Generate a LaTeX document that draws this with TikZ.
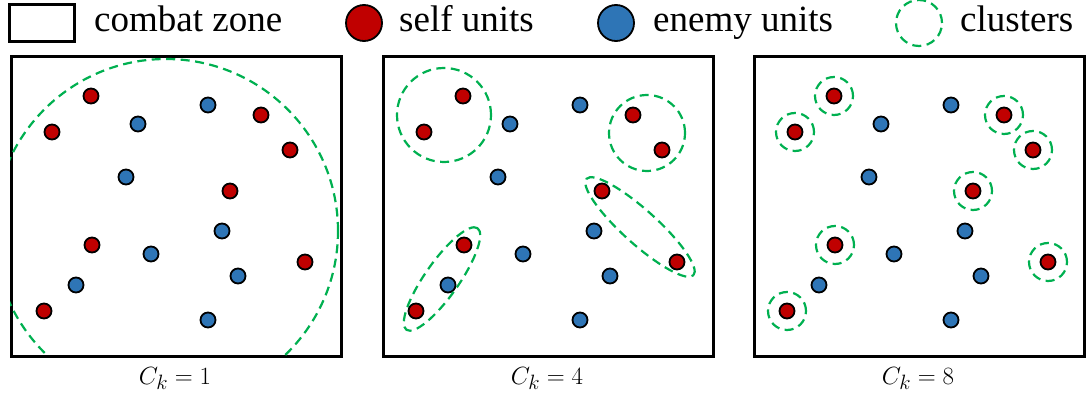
\documentclass[tikz,border=0pt]{standalone}
\usepackage{fontspec}
\setmainfont{Liberation Serif}
\usepackage{amsmath}
\usepackage{tikz}
\definecolor{selfred}{HTML}{C00000}
\definecolor{enemyblue}{HTML}{2E75B6}
\definecolor{clustergreen}{HTML}{00B050}
\tikzset{
  zone/.style={draw=black, line width=3pt},
  unit/.style={circle, draw=black, line width=1.8pt, minimum size=15pt, inner sep=0pt},
  selfunit/.style={unit, fill=selfred},
  enemyunit/.style={unit, fill=enemyblue},
  cluster/.style={draw=clustergreen, line width=2.2pt, dash pattern=on 9pt off 5.5pt},
  legendtext/.style={anchor=base west, inner sep=0pt, font=\fontsize{37}{40}\selectfont},
}

\begin{document}
\begin{tikzpicture}[x=1pt, y=-1pt]
    \useasboundingbox (0,0) rectangle (1086,398);
    % legend
    \node[zone, minimum width=65pt, minimum height=37pt, inner sep=0pt] (legzone) at (42,23) {};
    \node[legendtext] (legzonetext) at (94,32) {combat zone};
    \node[selfunit, minimum size=36pt] (legself) at (364,23) {};
    \node[legendtext] (legselftext) at (399,32) {self units};
    \node[enemyunit, minimum size=36pt] (legenemy) at (616,23) {};
    \node[legendtext] (legenemytext) at (653,32) {enemy units};
    \node[cluster, circle, minimum size=46pt, inner sep=0pt] (legcluster) at (919,23) {};
    \node[legendtext] (legclustertext) at (960,32) {clusters};
    % panels
    \foreach \px/\pn/\ck in {10/a/1, 382/b/4, 753/c/8} {
        \begin{scope}[shift={(\px,55)}]
            \node[zone, minimum width=330pt, minimum height=300pt, inner sep=0pt, anchor=north west] (zone\pn) at (0,0) {};
            \foreach \ux/\uy [count=\i] in {81/41, 42/77, 251/60, 280/95, 220/136, 82/190, 295/207, 34/256}
                \node[selfunit] (s\pn\i) at (\ux,\uy) {};
            \foreach \ux/\uy [count=\i] in {198/50, 128/69, 116/122, 212/176, 141/199, 66/230, 228/221, 198/265}
                \node[enemyunit] (e\pn\i) at (\ux,\uy) {};
            \node[anchor=base, inner sep=0pt, font=\fontsize{31}{33}\selectfont] (ck\pn) at (165,329) {$C_k = \ck$};
        \end{scope}
    }
    % clusters
    \begin{scope}[shift={(10,55)}]
        \clip (0,0) rectangle (330,300);
        \draw[cluster] (156,176) circle (172pt);
    \end{scope}
    \begin{scope}[shift={(382,55)}]
        \draw[cluster] (62,60) circle (47pt);
        \draw[cluster] (265,78) circle (38pt);
        \draw[cluster, rotate around={-42:(258,172)}] (258,172) ellipse [x radius=72pt, y radius=17pt];
        \draw[cluster, rotate around={55:(60,224)}] (60,224) ellipse [x radius=62pt, y radius=17pt];
    \end{scope}
    \foreach \i in {1,...,8}
        \draw[cluster] (sc\i) circle (19pt);
\end{tikzpicture}
\end{document}
